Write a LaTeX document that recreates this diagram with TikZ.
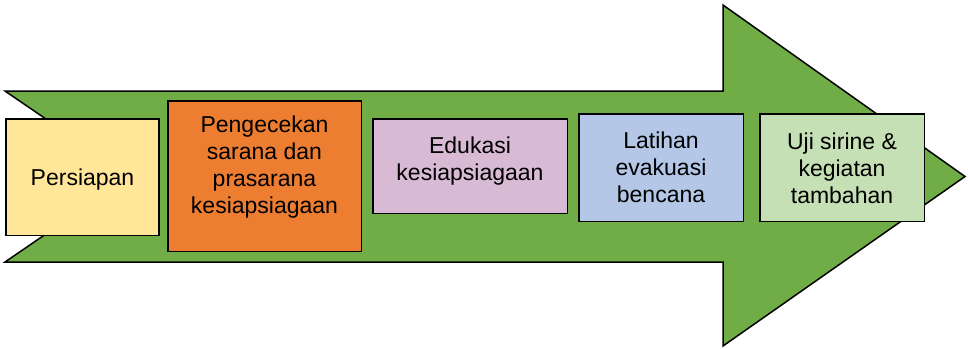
\documentclass[tikz,border=0pt]{standalone}
\usepackage{fontspec}
\setmainfont{Liberation Sans}
\definecolor{arrowgreen}{HTML}{70AD47}
\definecolor{cyellow}{HTML}{FFE699}
\definecolor{corange}{HTML}{ED7D31}
\definecolor{cpurple}{HTML}{D8BAD5}
\definecolor{cblue}{HTML}{B4C7E7}
\definecolor{cgreen}{HTML}{C5E0B4}
\begin{document}
\begin{tikzpicture}[x=1pt,y=-1pt,
  stepbox/.style={draw=black,line width=1.5pt,inner sep=0pt},
  lbl/.style={anchor=north,align=center,inner sep=0pt,text=black,font=\fontsize{23}{26.8}\selectfont}]
\useasboundingbox (0,0) rectangle (968,348);
% big arrow
\draw[fill=arrowgreen,draw=black,line width=1.5pt,line join=miter]
  (5,91) -- (723,91) -- (723,5) -- (965,176.5) -- (723,346) -- (723,262) -- (5,262) -- (130,176.5) -- cycle;
% boxes
\node[stepbox,fill=cyellow,minimum width=153pt,minimum height=116.5pt] (b1) at (82.5,177) {};
\node[stepbox,fill=corange,minimum width=193.5pt,minimum height=150.5pt] (b2) at (264.5,176) {};
\node[stepbox,fill=cpurple,minimum width=194.5pt,minimum height=94.5pt] (b3) at (470,166) {};
\node[stepbox,fill=cblue,minimum width=164.5pt,minimum height=107.5pt] (b4) at (661,167.5) {};
\node[stepbox,fill=cgreen,minimum width=164.5pt,minimum height=107.5pt] (b5) at (842,167.5) {};
% labels
\node[lbl] (t1) at (82.5,169) {Persiapan};
\node[lbl] (t2) at (264.5,116) {Pengecekan\\sarana dan\\prasarana\\kesiapsiagaan};
\node[lbl] (t3) at (470,137) {Edukasi\\kesiapsiagaan};
\node[lbl] (t4) at (661,132) {Latihan\\evakuasi\\bencana};
\node[lbl] (t5) at (842,133) {Uji sirine \&\\kegiatan\\tambahan};
\end{tikzpicture}
\end{document}
